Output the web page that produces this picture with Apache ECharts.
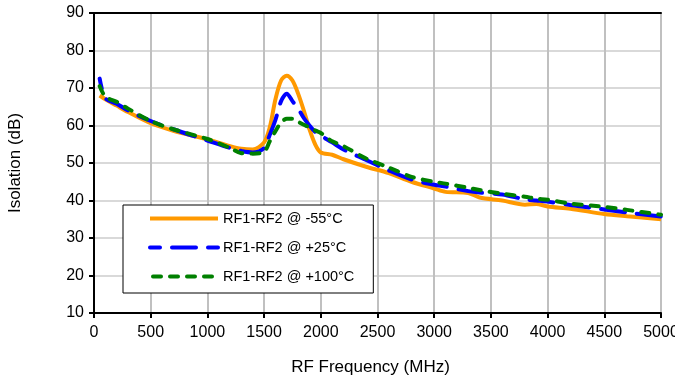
<!DOCTYPE html>
<html>
<head>
<meta charset="utf-8">
<script src="https://cdn.jsdelivr.net/npm/echarts@6/dist/echarts.min.js"></script>
<style>
  html, body { margin: 0; padding: 0; background: #fff; }
  #chart { width: 675px; height: 379px; }
</style>
</head>
<body>
<div id="chart"></div>
<script>
// frequency points (MHz) shared by all three curves
const freqs = [50, 100, 200, 300, 500, 700, 1000, 1200, 1300, 1400, 1500, 1550, 1600, 1650, 1700, 1750, 1800, 1850, 1900, 1950, 2000, 2100, 2200, 2400, 2600, 2800, 3000, 3100, 3300, 3400, 3600, 3800, 3900, 4000, 4200, 4500, 4700, 5000];
const isoM55 = [68, 67, 65.3, 63.6, 60.6, 58.6, 56.3, 54.5, 53.8, 53.6, 55.5, 59.5, 67, 72, 73.3, 72, 68.5, 64, 59, 55, 52.8, 52.2, 51, 49, 47.3, 45, 43.2, 42.3, 42, 40.8, 40, 38.9, 39.1, 38.4, 37.8, 36.4, 35.8, 35];
const isoP25 = [72.5, 67.3, 65.8, 64, 61.2, 59, 56, 54, 53.2, 52.8, 54, 57.5, 61.5, 66.5, 68.5, 66.5, 64.5, 62, 60, 58.3, 57.3, 55.5, 53.6, 50.8, 48, 45.6, 44.2, 43.7, 42.5, 42.1, 41.6, 40.3, 40, 39.7, 38.8, 37.6, 36.8, 35.7];
const isoP100 = [70.5, 67.7, 66.3, 64.5, 61.2, 59, 56.4, 54, 52.6, 52.5, 53, 55.8, 58.5, 60.8, 61.8, 61.8, 61, 60.2, 59.5, 58.7, 58, 55.8, 54.5, 51.2, 48.8, 46.3, 45, 44.5, 43.4, 42.8, 41.8, 41, 40.5, 40.2, 39.2, 38.3, 37.5, 36.2];
const seriesNames = ['RF1-RF2 @ -55°C', 'RF1-RF2 @ +25°C', 'RF1-RF2 @ +100°C'];

const pairs = (ys) => freqs.map((f, i) => [f, ys[i]]);

const chart = echarts.init(document.getElementById('chart'));
const font = 'Liberation Sans, Arial, sans-serif';
const frameAxis = { show: true, lineStyle: { color: '#000', width: 2 } };

chart.setOption({
  animation: false,
  textStyle: { fontFamily: font },
  grid: {
    left: 94, right: 14, top: 13, bottom: 66,
    outerBoundsMode: 'none'
  },
  legend: {
    orient: 'vertical',
    left: 123, top: 205,
    itemWidth: 68, itemHeight: 14, itemGap: 14,
    padding: [6, 19, 9, 25],
    backgroundColor: '#fff',
    borderColor: '#000', borderWidth: 1,
    lineStyle: { width: 4 },
    itemStyle: { opacity: 0 },
    textStyle: { fontSize: 14.5, color: '#000', fontFamily: font },
    data: seriesNames
  },
  xAxis: [{
    type: 'value', min: 0, max: 5000, interval: 500,
    name: 'RF Frequency (MHz)', nameLocation: 'middle', nameGap: 46,
    nameTextStyle: { fontSize: 17, color: '#000', padding: [0, 14, 0, 0] },
    axisLine: frameAxis,
    axisTick: { show: true, length: 5, lineStyle: { color: '#000', width: 2 } },
    axisLabel: { fontSize: 16, color: '#000', margin: 12, formatter: (v) => String(v) },
    splitLine: { lineStyle: { color: '#c0c0c0', width: 2 } }
  }, {
    type: 'value', position: 'top', min: 0, max: 5000,
    axisLine: frameAxis, axisTick: { show: false }, axisLabel: { show: false },
    splitLine: { show: false }
  }],
  yAxis: [{
    type: 'value', min: 10, max: 90, interval: 10,
    name: 'Isolation (dB)', nameLocation: 'middle', nameGap: 70,
    nameTextStyle: { fontSize: 17, color: '#000' },
    axisLine: frameAxis,
    axisTick: { show: true, length: 5, lineStyle: { color: '#000', width: 2 } },
    axisLabel: { fontSize: 16, color: '#000', margin: 10 },
    splitLine: { lineStyle: { color: '#d9d9d9', width: 2 } }
  }, {
    type: 'value', position: 'right', min: 10, max: 90,
    axisLine: frameAxis, axisTick: { show: false }, axisLabel: { show: false },
    splitLine: { show: false }
  }],
  series: [
    {
      name: seriesNames[0], type: 'line', data: pairs(isoM55),
      smooth: 0.3, symbol: 'none',
      lineStyle: { color: '#ff9900', width: 4 },
      itemStyle: { color: '#ff9900' }
    },
    {
      name: seriesNames[1], type: 'line', data: pairs(isoP25),
      smooth: 0.3, symbol: 'none',
      lineStyle: { color: '#0000ff', width: 4, type: [24, 12], dashOffset: 14, cap: 'round' },
      itemStyle: { color: '#0000ff' }
    },
    {
      name: seriesNames[2], type: 'line', data: pairs(isoP100),
      smooth: 0.3, symbol: 'none',
      lineStyle: { color: '#008000', width: 4, type: [8, 9], cap: 'round' },
      itemStyle: { color: '#008000' }
    }
  ]
});
</script>
</body>
</html>
